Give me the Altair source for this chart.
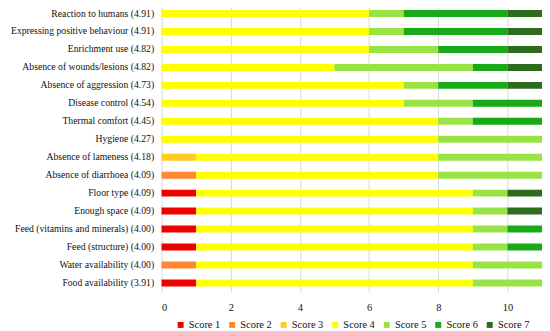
import altair as alt
import pandas as pd

categories = [
    "Reaction to humans (4.91)",
    "Expressing positive behaviour (4.91)",
    "Enrichment use (4.82)",
    "Absence of wounds/lesions (4.82)",
    "Absence of aggression (4.73)",
    "Disease control (4.54)",
    "Thermal comfort (4.45)",
    "Hygiene (4.27)",
    "Absence of lameness (4.18)",
    "Absence of diarrhoea (4.09)",
    "Floor type (4.09)",
    "Enough space (4.09)",
    "Feed (vitamins and minerals) (4.00)",
    "Feed (structure) (4.00)",
    "Water availability (4.00)",
    "Food availability (3.91)",
]
score_names = ["Score 1", "Score 2", "Score 3", "Score 4", "Score 5", "Score 6", "Score 7"]
score1 = [0, 0, 0, 0, 0, 0, 0, 0, 0, 0, 1, 1, 1, 1, 0, 1]
score2 = [0, 0, 0, 0, 0, 0, 0, 0, 0, 1, 0, 0, 0, 0, 1, 0]
score3 = [0, 0, 0, 0, 0, 0, 0, 0, 1, 0, 0, 0, 0, 0, 0, 0]
score4 = [6, 6, 6, 5, 7, 7, 8, 8, 7, 7, 8, 8, 8, 8, 8, 8]
score5 = [1, 1, 2, 4, 1, 2, 1, 3, 3, 3, 1, 1, 1, 1, 2, 2]
score6 = [3, 3, 2, 1, 2, 2, 2, 0, 0, 0, 0, 0, 1, 1, 0, 0]
score7 = [1, 1, 1, 1, 1, 0, 0, 0, 0, 0, 1, 1, 0, 0, 0, 0]
colors = ["#EE0000", "#FF8833", "#FFCC22", "#FFFF00", "#99E346", "#19A919", "#2D6B1F"]

series = [score1, score2, score3, score4, score5, score6, score7]
rows = []
for si, (name, vals) in enumerate(zip(score_names, series)):
    for ci, (cat, v) in enumerate(zip(categories, vals)):
        rows.append({"category": cat, "score": name, "order": si, "count": v})
df = pd.DataFrame(rows)

font = "'Liberation Serif', 'DejaVu Serif', serif"

chart = alt.Chart(df).mark_bar(size=7).encode(
    x=alt.X(
        "count:Q",
        stack="zero",
        scale=alt.Scale(domain=[0, 11], nice=False),
        axis=alt.Axis(
            values=[0, 2, 4, 6, 8, 10], title=None, grid=True, gridColor="#d9d9d9",
            domain=False, ticks=False, labelFont=font, labelFontSize=10.5,
            labelColor="#111", labelPadding=11,
        ),
    ),
    y=alt.Y(
        "category:N", sort=categories,
        scale=alt.Scale(paddingInner=0, paddingOuter=0),
        axis=alt.Axis(
            title=None, ticks=False, domain=False, labelFont=font, labelFontSize=9.8,
            labelColor="#111", labelPadding=8, labelLimit=200,
        ),
    ),
    color=alt.Color(
        "score:N",
        scale=alt.Scale(domain=score_names, range=colors),
        legend=alt.Legend(
            title=None, orient="none", direction="horizontal", legendX=14, legendY=318,
            symbolType="square", symbolSize=36, symbolStrokeWidth=0,
            labelFont=font, labelFontSize=10.5, labelColor="#111", columnPadding=6,
            labelOffset=3, symbolOffset=0,
        ),
    ),
    order=alt.Order("order:Q", sort="ascending"),
).properties(
    width=384, height=290,
    autosize=alt.AutoSizeParams(type="none"),
    padding={"left": 155, "top": -5, "right": 0, "bottom": 45},
).configure_view(stroke=None).configure_axisY(grid=False)

chart.save("out.html", embed_options={"renderer": "svg", "actions": False})
